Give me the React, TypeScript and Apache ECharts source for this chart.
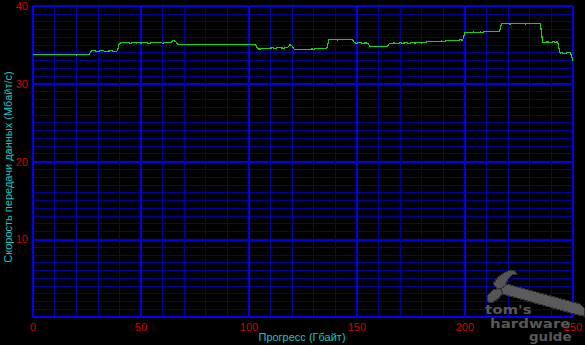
import React, { useEffect, useRef } from "react";
import * as echarts from "echarts";

// Transfer rate (MB/s) sampled every 1 GB of progress, 0..250 GB
const speedMBs: number[] = [
  33.8, 33.8, 33.8, 33.8, 33.8, 33.8, 33.8, 33.8, 33.8, 33.8,
  33.8, 33.8, 33.8, 33.8, 33.8, 33.8, 33.8,
  33.8, 33.72, 33.8, 33.7, 33.78, 33.8,
  33.8, 33.8, 33.8, 33.8,
  34.2, 34.25, 34.2, 34.18, 34.22, 34.28, 34.2, 34.15, 34.2, 34.25, 34.2, 34.18, 34.2,
  35.2, 35.3, 35.35, 35.25, 35.3, 35.2, 35.28, 35.32, 35.25, 35.3,
  35.22, 35.28, 35.35, 35.25, 35.2, 35.3, 35.28, 35.25, 35.32, 35.3,
  35.22, 35.28, 35.25, 35.3, 35.35,
  35.6, 35.45,
  35.05, 35.1, 35.05, 35.02, 35.08, 35.05, 35.1, 35.05, 35.0, 35.05,
  35.08, 35.05, 35.1, 35.05, 35.02, 35.05, 35.08, 35.1, 35.05, 35.0,
  35.05, 35.08, 35.05, 35.1, 35.05, 35.02, 35.08, 35.05, 35.0, 35.05,
  35.1, 35.05, 35.08, 35.02, 35.05, 35.1, 35.05,
  34.5, 34.45, 34.5, 34.48, 34.5, 34.52,
  34.6, 34.62, 34.55, 34.6, 34.65, 34.6, 34.58, 34.62,
  34.7, 35.0, 34.85, 34.4,
  34.38, 34.42, 34.35, 34.4, 34.45, 34.4, 34.42, 34.48, 34.45, 34.5, 34.48, 34.52, 34.5, 34.55, 34.52,
  35.65, 35.7, 35.65, 35.68, 35.62, 35.7, 35.65, 35.72, 35.65, 35.68, 35.7, 35.62,
  35.25, 35.22, 35.28, 35.25, 35.2, 35.25, 35.22,
  34.8, 34.78, 34.8, 34.82, 34.78, 34.8, 34.8, 34.82, 34.8,
  35.15, 35.2, 35.25, 35.2, 35.15, 35.28, 35.22, 35.25, 35.3, 35.2,
  35.25, 35.3, 35.22, 35.28, 35.3, 35.25, 35.32, 35.35,
  35.4, 35.45, 35.42, 35.48, 35.45, 35.4, 35.5, 35.45, 35.48,
  35.55, 35.6, 35.58, 35.62, 35.55, 35.6, 35.65, 35.6,
  36.6, 36.55, 36.62, 36.6, 36.65, 36.6, 36.58, 36.65, 36.62, 36.68,
  36.7, 36.75, 36.7, 36.78, 36.72, 36.7, 36.75,
  37.7, 37.75, 37.7, 37.72, 37.68, 37.75, 37.7, 37.78, 37.72, 37.7,
  37.75, 37.68, 37.72, 37.78, 37.7, 37.75, 37.72, 37.7, 37.75,
  35.35, 35.3, 35.38, 35.35, 35.32, 35.4, 35.35, 35.38,
  33.95, 33.98, 33.92, 33.95, 34.0, 33.95,
  32.95,
];
const progressStepGB = 1;

const xAxisName = "Прогресс (Гбайт)";
const yAxisName = "Скорость передачи данных (Мбайт/с)";
const xRange = [0, 250];
const yRange = [0, 40];
const watermarkLines = ["tom's", "hardware", "guide"];

const labelFont = "'Liberation Sans', Arial, sans-serif";

export default function App() {
  const ref = useRef<HTMLDivElement>(null);

  useEffect(() => {
    if (!ref.current) return;
    const chart = echarts.init(ref.current, null, { renderer: "svg" });
    const points = speedMBs.map((v, i) => [i * progressStepGB, v]);

    const gray = "#585858";
    const wmFont = `bold 12px 'DejaVu Sans', sans-serif`;
    chart.setOption({
      animation: false,
      backgroundColor: "#000000",
      grid: { left: 33, right: 4, top: 6, bottom: 28 },
      xAxis: {
        type: "value",
        min: xRange[0],
        max: xRange[1],
        interval: 50,
        axisLine: { show: true, onZero: false, lineStyle: { color: "#0000ff", width: 2 } },
        axisTick: { show: false },
        axisLabel: { color: "#d00000", fontSize: 11, fontFamily: labelFont, margin: 5, lineHeight: 10 },
        splitLine: { show: true, lineStyle: { color: "#0000f0", width: 2 } },
        minorTick: { show: false, splitNumber: 5 },
        minorSplitLine: { show: true, lineStyle: { color: "#00009c", width: 1 } },
      },
      yAxis: {
        type: "value",
        min: yRange[0],
        max: yRange[1],
        interval: 10,
        axisLine: { show: true, lineStyle: { color: "#0000ff", width: 2 } },
        axisTick: { show: false },
        axisLabel: { color: "#d00000", fontSize: 11, fontFamily: labelFont, margin: 5, showMinLabel: false },
        splitLine: { show: true, lineStyle: { color: "#0000f0", width: 2 } },
        minorTick: { show: false, splitNumber: 10 },
        minorSplitLine: { show: true, lineStyle: { color: "#00009c", width: 1 } },
      },
      series: [
        {
          type: "line",
          data: points,
          showSymbol: false,
          symbol: "none",
          lineStyle: { color: "#18d018", width: 1.2 },
          z: 3,
        },
      ],
      graphic: [
        {
          type: "text",
          x: 8,
          y: 167,
          rotation: Math.PI / 2,
          style: {
            text: yAxisName,
            fill: "#10c8c8",
            font: `11px ${labelFont}`,
            align: "center",
            verticalAlign: "middle",
          },
        },
        {
          type: "text",
          x: 302,
          y: 337,
          style: {
            text: xAxisName,
            fill: "#10c8c8",
            font: `11px ${labelFont}`,
            align: "center",
            verticalAlign: "middle",
          },
        },
        // watermark hammer: handle
        {
          type: "polygon",
          z: 100,
          shape: { points: [[503, 283], [580, 304], [585, 309], [584, 316], [578, 315], [499, 293]] },
          style: { fill: "#5a5a5a", stroke: "#303030", lineWidth: 1.2 },
        },
        // claw
        {
          type: "polygon",
          z: 101,
          shape: {
            points: [[493, 284], [498, 277], [504, 273], [510, 270], [515, 271], [517, 274], [512, 275], [508, 279], [505, 286], [499, 290]],
          },
          style: { fill: "#555555", stroke: "#303030", lineWidth: 1.2 },
        },
        // striking head
        {
          type: "polygon",
          z: 101,
          shape: {
            points: [[487, 296], [493, 290], [500, 288], [503, 293], [499, 298], [492, 303], [488, 302]],
          },
          style: { fill: "#555555", stroke: "#303030", lineWidth: 1.2 },
        },
        {
          type: "text",
          z: 102,
          x: 485,
          y: 304,
          scaleX: 1.25,
          style: { text: watermarkLines[0], fill: gray, font: wmFont, verticalAlign: "top" },
        },
        {
          type: "text",
          z: 102,
          x: 490,
          y: 318,
          scaleX: 1.25,
          style: { text: watermarkLines[1], fill: gray, font: wmFont, verticalAlign: "top" },
        },
        {
          type: "text",
          z: 102,
          x: 529,
          y: 331,
          scaleX: 1.12,
          style: { text: watermarkLines[2], fill: gray, font: wmFont, verticalAlign: "top" },
        },
      ],
    });
    return () => chart.dispose();
  }, []);

  return (
    <>
      <style>{`#root svg path { shape-rendering: crispEdges; }`}</style>
      <div
        ref={ref}
        style={{ position: "fixed", left: 0, top: 0, width: 585, height: 345, background: "#000" }}
      />
    </>
  );
}
